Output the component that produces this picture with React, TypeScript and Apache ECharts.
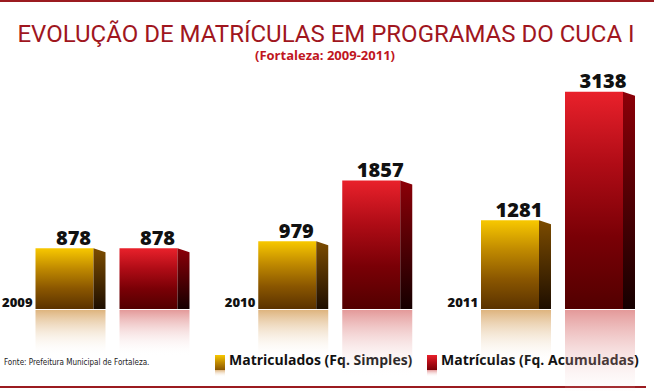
import React, { useEffect, useRef } from "react";
import * as echarts from "echarts";

const years = ["2009", "2010", "2011"];
const seriesNames = ["Matriculados (Fq. Simples)", "Matrículas (Fq. Acumuladas)"];
const simples = [878, 979, 1281];
const acumuladas = [878, 1857, 3138];
const titleText = "EVOLUÇÃO DE MATRÍCULAS EM PROGRAMAS DO CUCA I";
const subtitleText = "(Fortaleza: 2009-2011)";
const sourceText = "Fonte: Prefeitura Municipal de Fortaleza.";

const palettes = [
  {
    front: ["#f8c800", "#c08a00", "#8a5600", "#5a3200"],
    side: ["#7c4c00", "#1e0e00"],
    refl: "rgba(200,130,40,0.6)",
  },
  {
    front: ["#e9212b", "#b00c16", "#7a0006", "#520000"],
    side: ["#8c0008", "#160000"],
    refl: "rgba(205,70,70,0.55)",
  },
];

const grad = (stops: string[]) =>
  new echarts.graphic.LinearGradient(
    0,
    0,
    0,
    1,
    stops.map((c, i) => ({ offset: i / (stops.length - 1), color: c }))
  );

const makeRender = (si: number) => (params: any, api: any) => {
  const idx = api.value(0);
  const val = api.value(1);
  const top = api.coord([idx, val]);
  const base = api.coord([idx, 0]);
  const bandW = api.size([1, 0])[0];
  const k = bandW / 222.75;
  const W = 58 * k;
  const D = 12;
  const x = top[0] + (si === 0 ? -71 : 13) * k;
  const y = top[1];
  const b = base[1];
  const h = b - y;
  const pal = palettes[si];
  const rh = 28 + h * 0.3;
  const children: any[] = [
    {
      type: "rect",
      shape: { x: x, y: b + 1, width: W + D, height: rh },
      style: {
        fill: new echarts.graphic.LinearGradient(0, 0, 0, 1, [
          { offset: 0, color: pal.refl },
          { offset: 1, color: "rgba(255,255,255,0)" },
        ]),
      },
    },
    {
      type: "rect",
      shape: { x: x, y: y, width: W, height: h },
      style: { fill: grad(pal.front) },
    },
    {
      type: "polygon",
      shape: {
        points: [
          [x + W, y],
          [x + W + D, y + 4],
          [x + W + D, b],
          [x + W, b],
        ],
      },
      style: { fill: grad(pal.side) },
    },
    {
      type: "text",
      x: x + 38,
      y: y - 1,
      style: {
        text: String(val),
        fontFamily: "Open Sans",
        fontWeight: 800,
        fontSize: 20,
        fill: "#111",
        align: "center",
        verticalAlign: "bottom",
      },
    },
  ];
  if (si === 0) {
    children.push({
      type: "text",
      x: x - 3,
      y: b - 1,
      style: {
        text: years[idx],
        fontFamily: "Open Sans",
        fontWeight: 800,
        fontSize: 13,
        fill: "#111",
        align: "right",
        verticalAlign: "bottom",
      },
    });
  }
  return { type: "group", children };
};

const legendItem = (si: number, x: number) => [
  {
    type: "rect",
    left: x,
    top: 355,
    shape: { width: 10, height: 15 },
    style: { fill: grad(palettes[si].front.slice(0, 3)) },
  },
  {
    type: "rect",
    left: x,
    top: 370,
    shape: { width: 10, height: 7 },
    style: {
      fill: new echarts.graphic.LinearGradient(0, 0, 0, 1, [
        { offset: 0, color: palettes[si].refl },
        { offset: 1, color: "rgba(255,255,255,0)" },
      ]),
    },
  },
  {
    type: "text",
    left: x + 14,
    top: 352,
    style: {
      text: seriesNames[si],
      fontFamily: "Open Sans",
      fontWeight: 700,
      fontSize: 14,
      fill: "#111",
    },
  },
];

export default function App() {
  const ref = useRef<HTMLDivElement>(null);
  useEffect(() => {
    if (!ref.current) return;
    document.body.style.margin = "0";
    const chart = echarts.init(ref.current, null, { renderer: "svg" });
    chart.setOption({
      animation: false,
      backgroundColor: "#ffffff",
      grid: { left: 0, right: 0, top: 32, bottom: 82 },
      xAxis: {
        type: "value",
        min: -0.4781,
        max: 2.4579,
        show: false,
      },
      yAxis: { type: "value", min: 0, max: 4000, show: false },
      series: [
        {
          type: "custom",
          name: seriesNames[0],
          renderItem: makeRender(0),
          data: simples.map((v, i) => [i, v]),
          clip: false,
          z: 3,
        },
        {
          type: "custom",
          name: seriesNames[1],
          renderItem: makeRender(1),
          data: acumuladas.map((v, i) => [i, v]),
          clip: false,
          z: 2,
        },
      ],
      graphic: [
        {
          type: "line",
          shape: { x1: 0, y1: 1, x2: 654, y2: 1 },
          style: { stroke: "#9b1b20", lineWidth: 2 },
        },
        {
          type: "line",
          shape: { x1: 0, y1: 387, x2: 646, y2: 387 },
          style: { stroke: "#9b1b20", lineWidth: 2 },
        },
        {
          type: "text",
          x: 326,
          y: 34,
          style: {
            text: titleText,
            fontFamily: "Roboto",
            fontWeight: 400,
            fontSize: 24,
            lineHeight: 24,
            fill: "#a0161e",
            align: "center",
            verticalAlign: "middle",
          },
        },
        {
          type: "text",
          x: 325,
          y: 55,
          style: {
            text: subtitleText,
            fontFamily: "Open Sans",
            fontWeight: 700,
            fontSize: 13,
            lineHeight: 13,
            fill: "#c0161e",
            align: "center",
            verticalAlign: "middle",
          },
        },
        {
          type: "text",
          left: 4,
          top: 358,
          style: {
            text: sourceText,
            fontFamily: "DejaVu Sans Condensed",
            fontSize: 8,
            fill: "#222",
          },
        },
        ...legendItem(0, 215),
        ...legendItem(1, 427),
      ],
    });
    return () => chart.dispose();
  }, []);
  return (
    <div
      ref={ref}
      style={{ width: 654, height: 391, position: "fixed", left: 0, top: 0 }}
    />
  );
}
